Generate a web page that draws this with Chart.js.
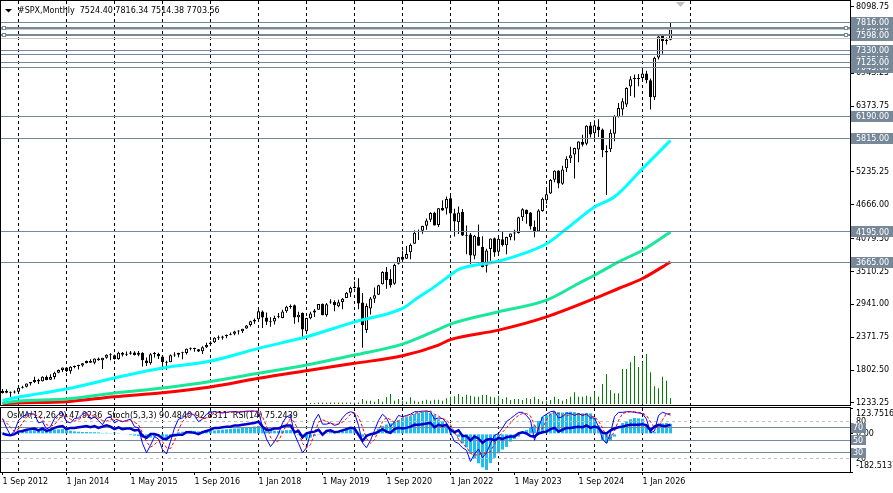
<!DOCTYPE html>
<html><head><meta charset="utf-8">
<script src="https://cdn.jsdelivr.net/npm/chart.js"></script>
<style>
html,body{margin:0;padding:0;background:#fff;overflow:hidden;}
#wrap{position:relative;width:893px;height:493px;background:#fff;}
canvas{position:absolute;left:0;}
#main{top:0;} #sub{top:406px;}
</style></head><body>
<div id="wrap"><canvas id="main" width="893" height="406"></canvas><canvas id="sub" width="893" height="87"></canvas></div>
<script>
// ---------------- DATA (monthly, Sep 2012 .. Aug 2026) ----------------
const symbolName = '#SPX,Monthly';
const open = [
1406.5,1440.9,1412.2,1416.2,
1426.2,1498.1,1514.7,1569.2,1597.6,1631.7,1609.8,1689.4,1636.0,1682.4,1758.7,1806.6,
1845.9,1782.7,1857.7,1874.0,1884.7,1923.9,1962.3,1929.8,2004.1,1971.4,2018.2,2065.8,
2058.9,1996.7,2105.2,2067.6,2087.4,2108.6,2067.0,2104.5,1970.1,1919.7,2080.8,2082.9,
2038.2,1936.9,1937.1,2056.6,2067.2,2093.9,2099.3,2173.2,2171.3,2164.3,2128.7,2200.2,
2251.6,2285.6,2380.1,2362.3,2388.5,2415.6,2431.4,2477.1,2474.4,2521.2,2583.2,2645.1,
2683.7,2816.5,2715.2,2633.4,2643.0,2718.7,2705.0,2821.2,2897.0,2926.3,2717.6,2790.5,
2477.0,2702.3,2798.2,2848.6,2952.3,2751.5,2971.4,2980.3,2909.0,2983.7,3050.7,3143.9,
3244.7,3235.7,2974.3,2498.1,2869.1,3038.8,3105.9,3288.3,3507.4,3385.9,3296.2,3645.9,
3764.6,3731.2,3842.5,3992.8,4192.0,4216.5,4300.7,4406.9,4528.8,4317.2,4610.6,4602.8,
4778.1,4519.6,4363.1,4540.3,4130.6,4149.8,3781.0,4112.4,3936.7,3609.8,3901.8,4087.1,
3853.3,4070.1,3963.3,4102.2,4166.8,4177.0,4450.5,4578.8,4530.6,4284.5,4201.3,4559.4,
4745.2,4861.1,5098.5,5258.0,5029.0,5297.2,5471.1,5537.8,5623.9,5757.7,5723.2,6040.1,
5903.3,6020.1,5968.3,5597.5,5625.1,5896.7,6187.2,6315.0,6401.5,6715.0,6843.0,6850.0,
6860.0,6940.0,6820.0,6528.0,7215.0,7590.0,7500.0,7524.40];
const high = [
1474.5,1471.0,1434.3,1448.0,
1509.9,1530.9,1570.3,1597.6,1687.2,1654.2,1698.0,1709.7,1729.9,1775.2,1813.6,1849.4,
1850.8,1867.9,1884.0,1897.3,1924.0,1968.2,1991.4,2005.0,2019.3,2018.2,2075.8,2093.6,
2072.4,2119.6,2114.9,2125.9,2134.7,2129.9,2132.8,2112.7,2020.9,2094.3,2116.5,2104.3,
2038.2,1963.0,2072.2,2111.1,2103.5,2120.6,2177.1,2193.8,2187.9,2169.6,2214.1,2277.5,
2301.0,2371.5,2401.0,2398.2,2418.7,2453.8,2484.0,2490.9,2519.4,2583.0,2657.7,2695.0,
2872.9,2836.0,2801.9,2717.5,2742.2,2791.5,2848.0,2916.5,2940.9,2939.9,2815.2,2800.2,
2709.0,2813.5,2860.3,2949.5,2954.1,2964.2,3028.0,3013.6,3022.0,3050.1,3154.3,3247.9,
3337.8,3393.5,3136.7,2954.9,3068.7,3233.1,3280.0,3514.8,3588.1,3549.9,3646.0,3760.2,
3870.9,3950.4,3994.4,4218.8,4238.0,4302.4,4430.0,4537.4,4545.9,4608.1,4743.8,4808.9,
4818.6,4595.3,4637.3,4593.5,4307.7,4177.5,4140.2,4325.3,4119.3,3905.4,4080.1,4101.0,
4094.2,4195.4,4110.8,4170.1,4231.1,4458.5,4607.1,4584.6,4541.3,4393.6,4587.6,4793.3,
4931.1,5111.1,5264.9,5264.0,5341.9,5505.5,5669.7,5651.6,5767.4,5878.5,6044.2,6100.0,
6128.2,6147.4,5986.1,5695.3,5968.6,6215.1,6427.0,6508.2,6699.5,6890.6,6920.0,6930.0,
7025.0,6985.0,6850.0,7230.0,7600.0,7620.0,7560.0,7816.34];
const low = [
1396.6,1403.3,1343.4,1398.1,
1426.2,1485.0,1501.5,1536.0,1581.3,1560.3,1604.6,1627.5,1633.4,1646.5,1746.2,1768.0,
1770.5,1737.9,1834.4,1814.4,1859.8,1916.0,1930.7,1904.8,1964.0,1820.7,2001.0,1972.6,
1988.1,1980.9,2039.7,2048.4,2067.9,2056.3,2044.0,1867.0,1871.9,1893.7,2019.4,1993.3,
1812.3,1810.1,1937.1,2033.8,2025.9,1991.7,2074.0,2147.6,2119.1,2114.7,2083.8,2187.4,
2245.1,2271.7,2322.3,2329.0,2352.7,2405.7,2407.7,2417.4,2446.6,2520.4,2557.5,2605.5,
2682.4,2532.7,2585.9,2553.8,2594.6,2698.7,2699.0,2796.3,2864.1,2603.5,2631.1,2346.6,
2444.0,2681.8,2722.3,2848.6,2750.5,2728.8,2952.2,2822.1,2891.9,2855.9,3050.7,3070.3,
3214.6,2855.8,2191.9,2447.5,2766.6,2965.7,3101.2,3284.5,3209.5,3233.9,3279.7,3633.4,
3694.1,3725.6,3723.3,3992.8,4056.9,4164.4,4233.1,4367.7,4305.9,4278.9,4560.0,4495.1,
4222.6,4114.7,4157.9,4124.3,3810.3,3636.9,3721.6,3954.5,3584.1,3491.6,3698.2,3764.5,
3794.3,3943.1,3808.9,4049.4,4048.3,4166.2,4385.1,4335.3,4238.6,4103.8,4197.7,4546.5,
4682.1,4853.5,5056.8,4953.6,5011.1,5234.3,5391.0,5119.3,5402.6,5674.0,5696.5,5832.3,
5773.3,5837.7,5488.7,4835.0,5578.6,5767.4,6178.0,6212.7,6360.6,6550.2,6521.5,6720.0,
6800.0,6770.0,6316.0,6480.0,7180.0,7280.0,7440.0,7514.38];
const close = [
1440.7,1412.2,1416.2,1426.2,
1498.1,1514.7,1569.2,1597.6,1630.7,1606.3,1685.7,1633.0,1681.6,1756.5,1805.8,1848.4,
1782.6,1859.5,1872.3,1884.0,1923.6,1960.2,1930.7,2003.4,1972.3,2018.1,2067.6,2058.9,
1995.0,2104.5,2067.9,2085.5,2107.4,2063.1,2104.0,1972.2,1920.0,2079.4,2080.4,2043.9,
1940.2,1932.2,2059.7,2065.3,2097.0,2098.9,2173.6,2171.0,2168.3,2126.2,2199.0,2238.8,
2278.9,2363.6,2362.7,2384.2,2411.8,2423.4,2470.3,2471.7,2519.4,2575.3,2647.6,2673.6,
2823.8,2713.8,2640.9,2648.1,2705.3,2718.4,2816.3,2901.5,2914.0,2711.7,2760.2,2506.9,
2704.1,2784.5,2834.4,2945.8,2752.1,2941.8,2980.4,2926.5,2976.7,3037.6,3141.0,3230.8,
3225.5,2954.2,2584.6,2912.4,3044.3,3100.3,3271.1,3500.3,3363.0,3270.0,3621.6,3756.1,
3714.2,3811.2,3972.9,4181.2,4204.1,4297.5,4395.3,4522.7,4307.5,4605.4,4567.0,4766.2,
4515.6,4373.9,4530.4,4131.9,4132.2,3785.4,4130.3,3955.0,3585.6,3872.0,4080.1,3839.5,
4076.6,3970.2,4109.3,4169.5,4179.8,4450.4,4589.0,4507.7,4288.1,4193.8,4567.8,4769.8,
4845.7,5096.3,5254.4,5035.7,5277.5,5460.5,5522.3,5648.4,5762.5,5705.5,6032.4,5881.6,
6040.5,5954.5,5611.9,5569.1,5911.7,6205.0,6339.4,6460.3,6688.5,6840.2,6849.1,6845.5,
6940.0,6820.0,6528.0,7210.0,7580.0,7500.0,7524.40,7703.56];
const volume = [
0,0,0,0,
0,0,0,0,0,0,0,0,0,0,0,0,
0,0,0,0,0,0,0,0,0,0,0,0,
0,0,0,0,0,0,0,0,0,0,0,0,
0,0,0,0,0,0,0,0,0,0,0,0,
0,0,0,0,0,0,0,0,0,0,0,0,
0,0,0,0,0,0,0,0,0,0,0,0,
0,1,1,1.5,1.5,1.5,1.5,1.5,1.5,1.5,1.5,1.5,
1.5,1.5,5,3.3,3.3,2.3,5,2.3,6.7,10,3.3,5,
3.3,2.3,6.7,3.3,2.3,3.3,4.3,3.3,4.3,4.3,3.3,5.7,
7.3,7.7,10,7.3,9.3,8.3,7.3,7.3,9,9,7.3,6.7,
8.3,5,6.7,4,5,5,4,6,5,7.3,5,2.7,
3.3,4,7.3,5,3.3,5,7.3,11.7,7.3,7.3,8.3,7.3,
12.7,7.3,20,30,14,10.7,10.7,35,35,41.7,48,37,
41.7,50,31.7,17.7,15.7,27.3,23.3,6];

// moving averages, read at sampled bars (bar index -> price)
const maFastIdx = [0,4,16,28,40,52,64,76,88,100,104,108,112,114,118,124,130,136,141,148,153,160,167];
const maFastVal = [1276,1337,1475,1666,1838,1959,2179,2380,2639,2871,3066,3244,3450,3545,3618,3688,3815,3990,4250,4627,4805,5291,5780];
const maMidIdx  = [0,4,16,28,40,52,64,76,88,100,109,112,124,136,144,148,154,160,167];
const maMidVal  = [1233,1268,1302,1406,1493,1605,1747,1890,2063,2253,2508,2600,2812,3014,3303,3446,3676,3879,4195];
const maSlowIdx = [0,4,16,28,40,52,64,76,88,100,109,112,124,136,148,154,160,167];
const maSlowVal = [1221,1233,1256,1342,1411,1510,1660,1792,1920,2051,2236,2331,2495,2725,3043,3216,3389,3676];

// indicator window
const osma = [
6,4,2,3,
6,10,14,16,18,18,20,18,18,20,22,23,
18,15,12,10,9,9,8,8,7,4,5,4,
6,4,2,-3,-5,-8,-10,-16,-22,-18,-14,-12,
-16,-18,-8,4,8,10,14,15,14,12,12,13,
14,16,18,20,22,24,26,26,28,30,33,35,
38,32,25,18,15,14,16,18,18,8,-6,-18,
-22,-18,-10,-4,5,6,10,12,14,16,20,22,
20,6,-14,-15,-8,5,25,38,45,50,58,65,
75,80,85,95,100,105,105,100,90,70,60,45,
30,5,-15,-45,-65,-95,-120,-141,-160,-173,-140,-115,
-93,-75,-62,-37,-25,-13,8,18,30,40,62,80,
90,98,106,104,102,104,106,104,100,98,100,98,
76,40,-29,-44,-35,-13,2,52,60,70,76,74,
72,38,24,10,43,50,52,47.9236];
const stochMain = [
85,70,58,65,
82,88,92,93,92,78,80,68,72,85,92,95,
80,78,85,86,92,95,84,88,82,75,86,88,
78,82,80,82,84,72,70,45,30,42,56,52,
35,28,48,70,84,86,92,94,90,80,84,92,
95,96,95,94,95,96,96,95,96,97,97,97,
96,72,52,40,48,60,78,88,90,60,45,30,
38,62,82,92,76,76,78,74,76,86,93,96,
94,74,46,38,50,66,82,92,86,72,80,90,
88,90,92,96,96,97,97,96,84,86,85,78,
62,48,45,38,34,16,28,36,22,30,45,58,
61,70,80,85,90,95,95,90,82,50,70,88,
92,96,97,86,88,94,93,90,93,90,92,86,
86,72,52,45,62,88,95,95,96,96,95,94,
93,84,62,65,90,95,93,90.4840];
const stochSignal = [
84,78,71,64,
68,78,87,91,92,88,83,75,73,75,83,91,
89,84,81,83,88,91,90,89,85,82,81,83,
84,83,80,81,82,79,75,62,48,39,43,50,
48,38,37,49,67,80,87,91,92,88,85,85,
90,94,95,95,95,95,96,96,96,96,97,97,
97,88,73,55,47,49,62,75,85,79,65,45,
38,43,61,79,83,81,77,76,76,79,85,92,
94,88,71,53,45,51,66,80,87,83,79,81,
86,89,90,93,95,96,97,97,92,89,85,83,
75,63,52,44,39,29,26,27,29,29,32,44,
55,63,70,78,85,90,93,93,89,74,67,69,
83,92,95,93,90,89,92,92,92,91,92,89,
88,81,70,56,53,65,82,93,95,96,96,95,
94,90,80,70,72,83,93,92.8311];
const rsi = [
61,59,58,60,
64,65,67,68,69,66,69,65,67,70,72,73,
68,70,70,71,72,73,71,73,70,72,74,72,
68,71,68,69,69,66,67,57,54,60,60,58,
53,52,57,58,59,59,63,63,62,60,63,65,
67,70,70,71,72,72,74,74,75,76,77,78,
80,72,67,67,69,69,72,74,74,63,65,55,
61,63,64,67,59,65,66,63,64,66,68,70,
69,59,49,57,60,61,64,68,64,62,68,70,
69,70,72,75,75,76,77,78,71,75,73,75,
67,63,66,57,57,50,56,53,46,51,52,50,
54,52,55,56,56,61,63,61,57,56,61,63,
64,68,70,64,67,70,70,71,72,71,74,70,
72,70,62,61,66,69,71,72,74,75,75,75,
76,74,66,72,75,73,73,75.2439];

// axes / ticks
const xTickIdx    = [0,16,32,48,64,80,96,112,128,144,160];
const xTickLabels = ['1 Sep 2012','1 Jan 2014','1 May 2015','1 Sep 2016','1 Jan 2018','1 May 2019','1 Sep 2020','1 Jan 2022','1 May 2023','1 Sep 2024','1 Jan 2026'];
const januaryIdx  = [4,16,28,40,52,64,76,88,100,112,124,136,148,160,172];
const priceTicks  = [8098.75,6943.25,6373.75,5235.25,4666.00,4079.50,3510.25,2941.00,2371.75,1802.50,1233.25];
const osmaTicks   = [123.7516,0,-182.5137];
// horizontal levels
const levelPrices = [7045,7265,7730,7125,7330,7816,7598,6190,5815,4195,3665];
const guidePrices = [7695,7540];
const handlePrices = [7730,7598];
const oscLevels = [80,70,50,30,20];

// ---------------- STYLE ----------------
const FONT = "8px 'DejaVu Sans'";
const LEVEL_COL = '#778899';
const X_MIN = -0.625, X_MAX = 211.875;
const Y_MIN = 1198.6, Y_MAX = 8194.0;
Chart.defaults.font.family = "'DejaVu Sans', sans-serif";
Chart.defaults.font.size = 8;
Chart.defaults.color = '#000';

const idx = close.map((_, i) => i);
const pts = (ix, vals) => ix.map((x, k) => ({x: x, y: vals[k]}));
const zeroPad = s => { s.paddingTop = 0; s.paddingBottom = 0; s.paddingLeft = 0; s.paddingRight = 0; };

function frame(chart) {
  const a = chart.chartArea, c = chart.ctx;
  c.save(); c.strokeStyle = '#000'; c.lineWidth = 1; c.setLineDash([]);
  c.strokeRect(a.left + 0.5, a.top - 0.5, a.right - a.left, a.bottom - a.top + 1);
  c.restore();
}
function hline(c, a, y, color, width, dash) {
  c.save(); c.strokeStyle = color; c.lineWidth = width; c.setLineDash(dash || []);
  const yy = (width % 2) ? Math.round(y - 0.5) + 0.5 : Math.round(y);
  c.beginPath(); c.moveTo(a.left, yy); c.lineTo(a.right, yy); c.stroke(); c.restore();
}
function tagBox(c, x0, x1, y, h, text) {
  c.save(); c.fillStyle = LEVEL_COL; c.fillRect(x0, Math.round(y - h / 2), x1 - x0, h);
  c.fillStyle = '#fff'; c.font = FONT; c.textBaseline = 'middle'; c.textAlign = 'left';
  c.fillText(text, x0 + 5, y + 0.5); c.restore();
}

const mainDecor = {
  id: 'mainDecor',
  afterDatasetsDraw(chart) {
    const a = chart.chartArea, ys = chart.scales.y, c = chart.ctx;
    guidePrices.forEach(v => hline(c, a, ys.getPixelForValue(v), '#C8C8C8', 1));
    levelPrices.forEach(v => hline(c, a, ys.getPixelForValue(v), LEVEL_COL, handlePrices.includes(v) ? 2 : 1));
  },
  afterDraw(chart) {
    const a = chart.chartArea, ys = chart.scales.y, c = chart.ctx;
    frame(chart);
    levelPrices.forEach(v => tagBox(c, a.right + 1, chart.width, ys.getPixelForValue(v), 11, v.toFixed(2)));
    c.save();
    handlePrices.forEach(v => {
      const y = Math.round(ys.getPixelForValue(v));
      [a.left + 2, a.right - 6].forEach(x => {
        c.fillStyle = '#fff'; c.fillRect(x, y - 2, 4, 4);
        c.strokeStyle = '#778899'; c.lineWidth = 1; c.strokeRect(x + 0.5, y - 1.5, 3, 3);
      });
    });
    // header
    c.fillStyle = '#000';
    c.beginPath(); c.moveTo(5, 9); c.lineTo(12, 9); c.lineTo(8.5, 12.5); c.closePath(); c.fill();
    const n = close.length - 1;
    c.font = FONT; c.textBaseline = 'middle'; c.textAlign = 'left';
    c.fillText(symbolName + '  ' + open[n].toFixed(2) + ' ' + high[n].toFixed(2) + ' ' + low[n].toFixed(2) + ' ' + close[n].toFixed(2), 18, 10.5);
    // chart shift marker
    c.fillStyle = '#C0C0C0';
    c.beginPath(); c.moveTo(676, 2); c.lineTo(685, 2); c.lineTo(680.5, 7); c.closePath(); c.fill();
    c.restore();
  }
};

new Chart(document.getElementById('main'), {
  type: 'bar',
  data: { datasets: [
    {type: 'line', data: pts(maFastIdx, maFastVal), borderColor: '#00FFFF', borderWidth: 3, pointRadius: 0, cubicInterpolationMode: 'monotone', xAxisID: 'x', yAxisID: 'y'},
    {type: 'line', data: pts(maMidIdx, maMidVal), borderColor: '#19E89A', borderWidth: 3, pointRadius: 0, cubicInterpolationMode: 'monotone', xAxisID: 'x', yAxisID: 'y'},
    {type: 'line', data: pts(maSlowIdx, maSlowVal), borderColor: '#FF0000', borderWidth: 3, pointRadius: 0, cubicInterpolationMode: 'monotone', xAxisID: 'x', yAxisID: 'y'},
    {type: 'bar', data: idx.map(i => ({x: i, y: [open[i], close[i]]})), barThickness: 3, grouped: false, borderWidth: 1, borderColor: '#000', borderSkipped: false, inflateAmount: 0, minBarLength: 1,
      backgroundColor: ctx => (close[ctx.dataIndex] >= open[ctx.dataIndex] ? '#FFFFFF' : '#000000'), xAxisID: 'x', yAxisID: 'y'},
    {type: 'bar', data: idx.map(i => ({x: i, y: [low[i], high[i]]})), barThickness: 1, grouped: false, backgroundColor: '#000', borderWidth: 0, inflateAmount: 0, xAxisID: 'x', yAxisID: 'y'},
    {type: 'bar', data: idx.map(i => ({x: i, y: volume[i]})), barThickness: 1, grouped: false, backgroundColor: '#008000', borderWidth: 0, inflateAmount: 0, xAxisID: 'x', yAxisID: 'vol'}
  ]},
  options: {
    responsive: false, animation: false, devicePixelRatio: 1, events: [],
    layout: {padding: {top: 1, bottom: 1, left: 0, right: 0}},
    plugins: {legend: {display: false}, tooltip: {enabled: false}, title: {display: false}},
    scales: {
      x: {type: 'linear', axis: 'x', position: 'bottom', min: X_MIN, max: X_MAX, offset: false,
        grid: {display: true, drawOnChartArea: true, drawTicks: false, color: '#000', lineWidth: 1, offset: false},
        border: {display: false, dash: [3, 3]},
        ticks: {display: false},
        afterBuildTicks: s => { s.ticks = januaryIdx.map(v => ({value: v})); },
        afterFit: s => { s.height = 0; zeroPad(s); }},
      y: {type: 'linear', axis: 'y', position: 'right', min: Y_MIN, max: Y_MAX,
        grid: {drawOnChartArea: false, drawTicks: true, tickLength: 4, tickColor: '#000'},
        border: {display: true, color: '#000', width: 1},
        ticks: {padding: 2, color: '#000', font: {family: 'DejaVu Sans', size: 8}, autoSkip: false, callback: v => Number(v).toFixed(2)},
        afterBuildTicks: s => { s.ticks = priceTicks.map(v => ({value: v})); },
        afterFit: s => { s.width = 43; zeroPad(s); }},
      vol: {type: 'linear', axis: 'y', position: 'left', display: false, min: -1, max: 403}
    }
  },
  plugins: [mainDecor]
});

// ---------------- indicator window ----------------
const subDecor = {
  id: 'subDecor',
  beforeDatasetsDraw(chart) {
    const c = chart.ctx, a = chart.chartArea, n = close.length - 1;
    c.save(); c.font = FONT; c.fillStyle = '#000'; c.textBaseline = 'middle'; c.textAlign = 'left';
    c.fillText('OsMA(12,26,9) ' + osma[n].toFixed(4) + '  Stoch(5,3,3) ' + stochMain[n].toFixed(4) + ' ' + stochSignal[n].toFixed(4) + '  RSI(14) ' + rsi[n].toFixed(4), 7, a.top + 8);
    c.restore();
  },
  afterDatasetDraw(chart, args) {
    if (args.index !== 3) return;
    const c = chart.ctx, a = chart.chartArea, s = chart.scales.osc;
    oscLevels.forEach(v => {
      if (v === 80 || v === 20) hline(c, a, s.getPixelForValue(v), '#C0C0C0', 1, [3, 3]);
      else hline(c, a, s.getPixelForValue(v), LEVEL_COL, 1);
    });
  },
  afterDraw(chart) {
    const c = chart.ctx, a = chart.chartArea, s = chart.scales.osc;
    frame(chart);
    c.save(); c.font = FONT; c.fillStyle = '#000'; c.textBaseline = 'middle'; c.textAlign = 'left';
    oscLevels.filter(v => v === 80 || v === 20).forEach(v => c.fillText(String(v), a.right + 6, s.getPixelForValue(v)));
    c.restore();
    oscLevels.filter(v => v !== 80 && v !== 20).forEach(v => {
      c.save(); c.fillStyle = LEVEL_COL; const y = s.getPixelForValue(v);
      c.fillRect(a.right + 1, Math.round(y - 5), 15, 10);
      c.fillStyle = '#fff'; c.font = FONT; c.textBaseline = 'middle'; c.textAlign = 'left';
      c.fillText(String(v), a.right + 3, y + 0.5); c.restore();
    });
  }
};

new Chart(document.getElementById('sub'), {
  type: 'bar',
  data: { datasets: [
    {type: 'line', data: idx.map(i => ({x: i, y: rsi[i]})), borderColor: '#0000CD', borderWidth: 2.5, pointRadius: 0, tension: 0, xAxisID: 'x', yAxisID: 'osc'},
    {type: 'line', data: idx.map(i => ({x: i, y: stochSignal[i]})), borderColor: '#FF0000', borderWidth: 1, borderDash: [3, 2], pointRadius: 0, tension: 0, xAxisID: 'x', yAxisID: 'osc'},
    {type: 'line', data: idx.map(i => ({x: i, y: stochMain[i]})), borderColor: '#0000FF', borderWidth: 1, pointRadius: 0, tension: 0, xAxisID: 'x', yAxisID: 'osc'},
    {type: 'bar', data: idx.map(i => ({x: i, y: osma[i]})), barThickness: 3, grouped: false, backgroundColor: '#1EBFF0', borderWidth: 0, inflateAmount: 0, xAxisID: 'x', yAxisID: 'osma'}
  ]},
  options: {
    responsive: false, animation: false, devicePixelRatio: 1, events: [],
    layout: {padding: {top: 2, bottom: 0, left: 0, right: 0}},
    plugins: {legend: {display: false}, tooltip: {enabled: false}, title: {display: false}},
    scales: {
      x: {type: 'linear', axis: 'x', position: 'bottom', min: X_MIN, max: X_MAX, offset: false,
        grid: {display: true, drawOnChartArea: false, drawTicks: true, tickLength: 3, tickColor: '#000', offset: false},
        border: {display: false},
        ticks: {display: true, align: 'start', padding: 2, autoSkip: false, maxRotation: 0, minRotation: 0, color: '#000', font: {family: 'DejaVu Sans', size: 8},
          callback: (v, i) => xTickLabels[i]},
        afterBuildTicks: s => { s.ticks = xTickIdx.map(v => ({value: v})); },
        afterFit: s => { s.height = 21; zeroPad(s); }},
      xg: {type: 'linear', axis: 'x', position: 'top', min: X_MIN, max: X_MAX, offset: false,
        grid: {display: true, drawOnChartArea: true, drawTicks: false, color: '#000', lineWidth: 1, offset: false},
        border: {display: false, dash: [3, 3]},
        ticks: {display: false},
        afterBuildTicks: s => { s.ticks = januaryIdx.map(v => ({value: v})); },
        afterFit: s => { s.height = 0; zeroPad(s); }},
      osma: {type: 'linear', axis: 'y', position: 'right', min: osmaTicks[2], max: osmaTicks[0],
        grid: {drawOnChartArea: false, drawTicks: true, tickLength: 3, tickColor: '#000'},
        border: {display: true, color: '#000'},
        ticks: {padding: 3, color: '#000', autoSkip: false, font: {family: 'DejaVu Sans', size: 8, lineHeight: 1.5},
          callback: (v, i) => { const t = Number(v).toFixed(v === 0 ? 2 : 4); return i === 0 ? ['', t] : (i === osmaTicks.length - 1 ? [t, ''] : t); }},
        afterBuildTicks: s => { s.ticks = osmaTicks.map(v => ({value: v})); },
        afterFit: s => { s.width = 43; zeroPad(s); }},
      osc: {type: 'linear', axis: 'y', position: 'right', display: false, min: -1, max: 102}
    }
  },
  plugins: [subDecor]
});
</script>
</body></html>
